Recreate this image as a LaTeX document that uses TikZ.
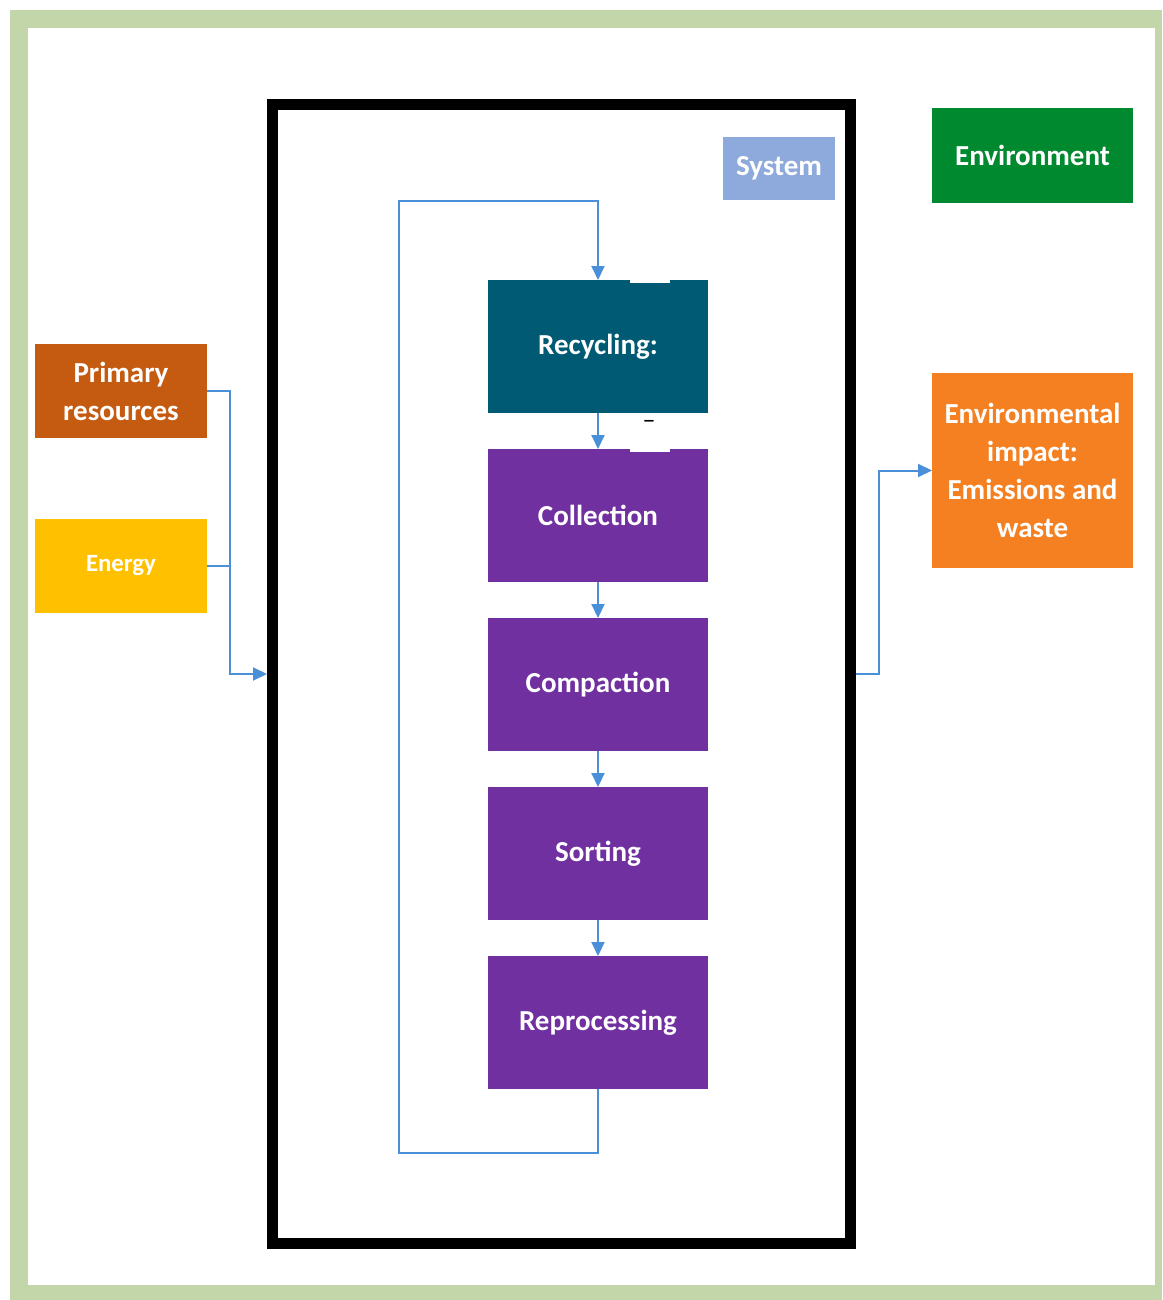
\documentclass[tikz,border=0pt]{standalone}
\usepackage{fontspec}
\setmainfont{Carlito}
\usetikzlibrary{positioning}
\usetikzlibrary{arrows.meta}
\definecolor{framegreen}{RGB}{195,214,170}
\definecolor{flowblue}{RGB}{74,144,217}
\definecolor{recteal}{RGB}{0,90,115}
\definecolor{steppurple}{RGB}{112,48,160}
\definecolor{sysblue}{RGB}{142,169,219}
\definecolor{envgreen}{RGB}{0,137,47}
\definecolor{primbrown}{RGB}{197,90,17}
\definecolor{energyyellow}{RGB}{255,192,0}
\definecolor{impactorange}{RGB}{245,128,34}
\begin{document}
\begin{tikzpicture}[x=0.5pt,y=-0.5pt,
  box/.style={rectangle, text=white, align=center, inner sep=0pt, outer sep=0pt,
    font=\bfseries\fontsize{14.5}{19}\selectfont},
  stepbox/.style={box, fill=steppurple, minimum width=110pt, minimum height=66.5pt},
  flow/.style={draw=flowblue, line width=1pt, -{Triangle[length=7pt,width=6.5pt]}},
  flowline/.style={draw=flowblue, line width=1pt}]
		\useasboundingbox (0,0) rectangle (1162,1300);
		\fill[framegreen] (10,10) rectangle (1162,1300);
		\fill[white] (28,28) rectangle (1155,1285);
		\node (sysbox) [draw, line width=5.5pt, minimum width=288.75pt, minimum height=569pt] at (561.25,674) {};
		\node (syslabel) [box, fill=sysblue, minimum width=56pt, minimum height=31.5pt] at (779,168.5) {System};
		\node (env) [box, fill=envgreen, minimum width=100.5pt, minimum height=47.5pt] at (1032.5,155.5) {Environment};
		\node (impact) [box, fill=impactorange, minimum width=100.5pt, minimum height=97.5pt] at (1032.5,470.5) {Environmental\\impact:\\Emissions and\\waste};
		\node (prim) [box, fill=primbrown, minimum width=86pt, minimum height=47pt] at (121,391) {Primary\\resources};
		\node (energy) [box, fill=energyyellow, minimum width=86pt, minimum height=47pt, font=\bfseries\fontsize{12.4}{15}\selectfont] at (121,566) {Energy};
		\node (rec) [stepbox, fill=recteal] at (598,346.5) {Recycling:};
		\node (coll) [stepbox, below=18pt of rec] {Collection};
		\node (comp) [stepbox, below=18pt of coll] {Compaction};
		\node (sort) [stepbox, below=18pt of comp] {Sorting};
		\node (repro) [stepbox, below=18pt of sort] {Reprocessing};
		\coordinate (loopb) at (399,1153);
		\coordinate (loopt) at (399,201);
		\foreach \a/\b in {rec/coll, coll/comp, comp/sort, sort/repro}
			\draw[flow] (\a) -- (\b);
		\draw[flow] (repro.south) |- (loopb) -- (loopt) -| (rec.north);
		\draw[flow] (prim.east) -- ++(23,0) |- (sysbox.west);
		\draw[flowline] (energy.east) -- ++(23,0);
		\draw[flow] (sysbox.east) -- ++(23,0) |- (impact.west);
		\fill[white] (630,278) rectangle (670,283);
		\fill[white] (630,446) rectangle (670,452);
		\node (dash) [inner sep=0pt, font=\fontsize{13}{13}\selectfont] at (649,424) {–};
\end{tikzpicture}
\end{document}
